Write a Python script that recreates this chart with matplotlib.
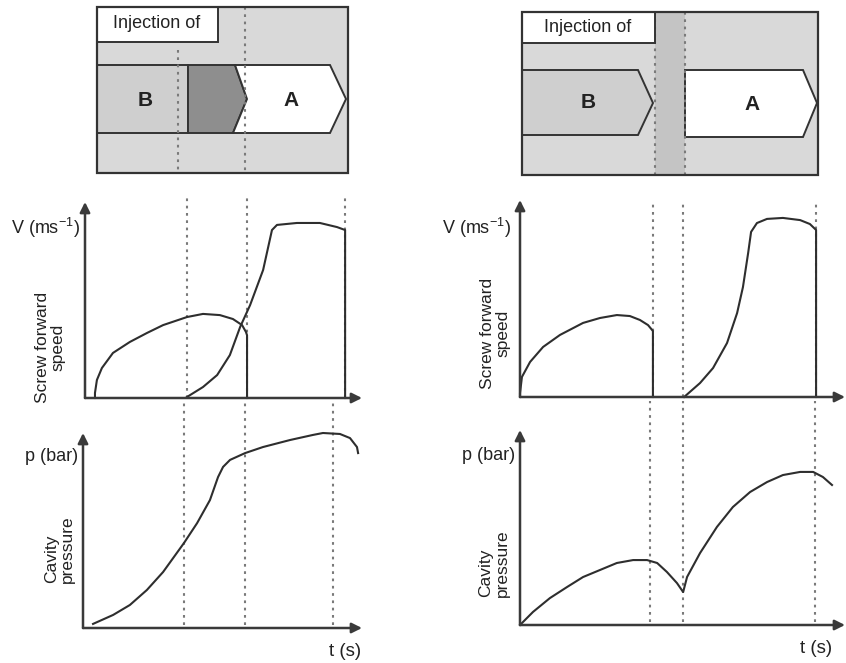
import matplotlib
matplotlib.use("Agg")
import matplotlib.pyplot as plt
from matplotlib.patches import Polygon, Rectangle

plt.rcParams['font.family'] = ['Liberation Sans', 'DejaVu Sans']
plt.rcParams['mathtext.default'] = 'regular'

# ---------------- text ----------------
box_title = "Injection of"
material_labels = ["B", "A"]
speed_unit_label = r"V (ms$^{-1}$)"
speed_title = "Screw forward\nspeed"
pressure_unit_label = "p (bar)"
pressure_title = "Cavity\npressure"
time_label = "t (s)"

# ---------------- data (normalised time 0-10, value 0-10) ----------------
# Left column: overlapping injection of B and A
left_speed_events = [3.68, 5.85, 9.39]
left_pressure_events = [3.62, 5.81, 8.96]

left_speed_B_t = [0.36, 0.36, 0.43, 0.61, 1.01, 1.62, 2.24, 2.82, 3.68, 4.26, 4.87, 5.34, 5.67, 5.81, 5.85, 5.85]
left_speed_B_v = [0.00, 0.26, 0.92, 1.53, 2.30, 2.86, 3.32, 3.72, 4.13, 4.29, 4.23, 4.03, 3.72, 3.37, 3.20, 0.00]

left_speed_A_t = [3.68, 4.26, 4.77, 5.23, 5.60, 5.96, 6.43, 6.75, 6.93, 7.65, 8.48, 9.10, 9.39, 9.39]
left_speed_A_v = [0.05, 0.56, 1.17, 2.19, 3.62, 4.74, 6.53, 8.57, 8.83, 8.93, 8.93, 8.72, 8.57, 0.00]

left_pressure_t = [0.36, 1.08, 1.68, 2.29, 2.87, 3.62, 4.09, 4.55, 4.84, 5.02, 5.27, 5.81, 6.45, 7.42, 8.24, 8.60, 9.21, 9.57, 9.82, 9.86]
left_pressure_p = [0.21, 0.67, 1.18, 1.95, 2.87, 4.36, 5.38, 6.56, 7.74, 8.26, 8.62, 8.97, 9.28, 9.64, 9.90, 10.0, 9.95, 9.74, 9.28, 8.97]

# Right column: sequential injection with a pause
right_speed_events = [4.09, 5.02, 9.11]
right_pressure_events = [4.00, 5.02, 9.08]

right_speed_B_t = [0.00, 0.00, 0.06, 0.31, 0.71, 1.23, 1.94, 2.46, 2.98, 3.38, 3.69, 3.94, 4.09, 4.09]
right_speed_B_v = [0.00, 0.20, 1.02, 1.78, 2.54, 3.15, 3.76, 4.01, 4.16, 4.11, 3.91, 3.65, 3.35, 0.00]

right_speed_A_t = [5.05, 5.54, 5.94, 6.37, 6.68, 6.86, 7.02, 7.11, 7.29, 7.60, 8.09, 8.62, 8.92, 9.11, 9.11]
right_speed_A_v = [0.00, 0.71, 1.47, 2.74, 4.26, 5.58, 7.31, 8.38, 8.83, 9.04, 9.09, 8.98, 8.78, 8.48, 0.00]

right_pressure_t = [0.00, 0.40, 0.92, 1.45, 1.94, 2.46, 2.98, 3.48, 3.91, 4.22, 4.52, 4.83, 5.02, 5.14, 5.54, 6.06, 6.55, 7.08, 7.60, 8.09, 8.62, 9.02, 9.32, 9.60]
right_pressure_p = [0.00, 0.67, 1.38, 1.95, 2.46, 2.82, 3.18, 3.33, 3.33, 3.18, 2.72, 2.15, 1.69, 2.46, 3.69, 5.03, 6.05, 6.82, 7.33, 7.69, 7.85, 7.85, 7.59, 7.18]

# ---------------- styling ----------------
W, H = 846, 663
fig = plt.figure(figsize=(W / 100, H / 100), dpi=100)
fig.patch.set_facecolor("white")

CURVE = "#2e2e2e"
AXIS = "#3a3a3a"
DOT = "#7a7a7a"
TEXT = "#222222"
DOTSTYLE = (0, (1.3, 2.2))


def px_axes(x0, y_origin, x_tip, y_top):
    return fig.add_axes([x0 / W, (H - y_origin) / H, (x_tip - x0) / W, (y_origin - y_top) / H])


def plot_panel(ax, curves, events, ev_lo, ev_hi, unit_label, unit_xy, title, title_xy, title_va, title_align):
    ax.set_xlim(0, 10)
    ax.set_ylim(0, 10)
    ax.axis("off")
    for t in events:
        ax.axvline(t, ymin=ev_lo, ymax=ev_hi, color=DOT, lw=1.5, linestyle=DOTSTYLE, clip_on=False, zorder=1)
    for tx, ty in curves:
        ax.plot(tx, ty, color=CURVE, lw=1.5, clip_on=False, zorder=3, solid_joinstyle="round")
    arrow = dict(arrowstyle="-|>", color=AXIS, lw=1.8, mutation_scale=15, shrinkA=0, shrinkB=0)
    ax.annotate("", xy=(1, 0), xytext=(0, 0), xycoords="axes fraction", arrowprops=arrow, zorder=4)
    ax.annotate("", xy=(0, 1), xytext=(0, 0), xycoords="axes fraction", arrowprops=arrow, zorder=4)
    ax.text(unit_xy[0], unit_xy[1], unit_label, transform=ax.transAxes, ha="right", va="center",
            fontsize=13, color=TEXT)
    ax.text(title_xy[0], title_xy[1], title, transform=ax.transAxes, ha="center", va=title_va,
            rotation=90, multialignment=title_align, fontsize=12.5, color=TEXT, linespacing=1.1)


# ---------------- speed panels ----------------
ax_ls = px_axes(85, 398, 362, 202)
plot_panel(ax_ls, [(left_speed_B_t, left_speed_B_v), (left_speed_A_t, left_speed_A_v)],
           left_speed_events, 0.0, 1.02, speed_unit_label, (-0.018, 0.867),
           speed_title, (-0.125, 0.26), "center", "center")

ax_rs = px_axes(520, 397, 845, 200)
plot_panel(ax_rs, [(right_speed_B_t, right_speed_B_v), (right_speed_A_t, right_speed_A_v)],
           right_speed_events, 0.0, 0.985, speed_unit_label, (-0.028, 0.858),
           speed_title, (-0.076, 0.325), "center", "center")

# ---------------- pressure panels ----------------
ax_lp = px_axes(83, 628, 362, 433)
plot_panel(ax_lp, [(left_pressure_t, left_pressure_p)],
           left_pressure_events, 0.015, 1.17, pressure_unit_label, (-0.018, 0.877),
           pressure_title, (-0.085, 0.23), "bottom", "left")
ax_lp.text(0.94, -0.123, time_label, transform=ax_lp.transAxes, ha="center", va="center",
           fontsize=13.5, color=TEXT)

ax_rp = px_axes(520, 625, 845, 430)
plot_panel(ax_rp, [(right_pressure_t, right_pressure_p)],
           right_pressure_events, 0.015, 1.15, pressure_unit_label, (-0.015, 0.87),
           pressure_title, (-0.08, 0.144), "bottom", "left")
ax_rp.text(0.91, -0.118, time_label, transform=ax_rp.transAxes, ha="center", va="center",
           fontsize=13.5, color=TEXT)

# ---------------- schematic boxes ----------------
BG = "#d9d9d9"
EDGE = "#333333"


def box_axes(x0, y0, x1, y1):
    ax = fig.add_axes([x0 / W, (H - y1) / H, (x1 - x0) / W, (y1 - y0) / H])
    bw, bh = x1 - x0, y1 - y0
    ax.set_xlim(0, bw)
    ax.set_ylim(bh, 0)
    ax.axis("off")
    ax.add_patch(Rectangle((0, 0), bw, bh, facecolor=BG, edgecolor="none", zorder=0))
    ax.add_patch(Rectangle((0, 0), bw, bh, facecolor="none", edgecolor=EDGE, lw=1.6, zorder=10, clip_on=False))
    return ax, bw, bh


# left box: B then A with an overlapping (dark) zone
axb, bw, bh = box_axes(97, 7, 348, 173)
axb.add_patch(Rectangle((0, 58), 91, 68, facecolor="#cfcfcf", edgecolor=EDGE, lw=1.4, zorder=2))
axb.add_patch(Polygon([(91, 58), (138, 58), (150, 92), (136, 126), (91, 126)], closed=True,
                      facecolor="#8e8e8e", edgecolor=EDGE, lw=1.4, zorder=2))
axb.add_patch(Polygon([(138, 58), (233, 58), (249, 92), (233, 126), (136, 126), (150, 92)], closed=True,
                      facecolor="white", edgecolor=EDGE, lw=1.4, zorder=2))
axb.plot([81, 81], [43, bh], color=DOT, lw=1.5, linestyle=DOTSTYLE, zorder=3)
axb.plot([148, 148], [0, bh], color=DOT, lw=1.5, linestyle=DOTSTYLE, zorder=3)
axb.add_patch(Rectangle((0, 0), 121, 35, facecolor="white", edgecolor=EDGE, lw=1.4, zorder=5))
axb.text(60, 17, box_title, ha="center", va="center", fontsize=13, color=TEXT, zorder=6)
axb.text(48, 93, material_labels[0], ha="center", va="center", fontsize=15, fontweight="bold", color=TEXT, zorder=6)
axb.text(194, 93, material_labels[1], ha="center", va="center", fontsize=15, fontweight="bold", color=TEXT, zorder=6)

# right box: B, pause, A
axr, bw, bh = box_axes(522, 12, 818, 175)
axr.add_patch(Rectangle((133, 0), 30, bh, facecolor="#c4c4c4", edgecolor="none", zorder=1))
axr.add_patch(Polygon([(0, 58), (116, 58), (131, 91), (116, 123), (0, 123)], closed=True,
                      facecolor="#cfcfcf", edgecolor=EDGE, lw=1.4, zorder=2))
axr.add_patch(Polygon([(163, 58), (281, 58), (295, 91), (281, 125), (163, 125)], closed=True,
                      facecolor="white", edgecolor=EDGE, lw=1.4, zorder=2))
axr.plot([133, 133], [0, bh], color=DOT, lw=1.5, linestyle=DOTSTYLE, zorder=3)
axr.plot([163, 163], [0, bh], color=DOT, lw=1.5, linestyle=DOTSTYLE, zorder=3)
axr.add_patch(Rectangle((0, 0), 133, 31, facecolor="white", edgecolor=EDGE, lw=1.4, zorder=5))
axr.text(66, 15, box_title, ha="center", va="center", fontsize=13, color=TEXT, zorder=6)
axr.text(66, 91, material_labels[0], ha="center", va="center", fontsize=15, fontweight="bold", color=TEXT, zorder=6)
axr.text(230, 92, material_labels[1], ha="center", va="center", fontsize=15, fontweight="bold", color=TEXT, zorder=6)

fig.savefig("out.png", dpi=100)
